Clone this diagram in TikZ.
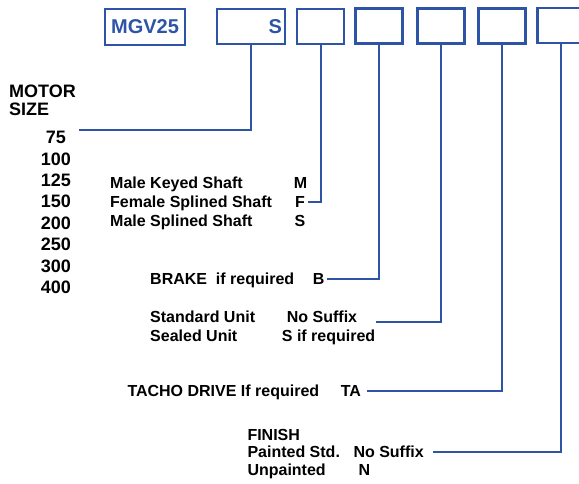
\documentclass[tikz,border=0pt]{standalone}
\usepackage{fontspec}
\setmainfont{Liberation Sans}
\definecolor{codeblue}{RGB}{46,84,166}
\tikzstyle{codebox}=[draw=codeblue, line width=2.4pt, minimum width=47pt, minimum height=35pt, inner sep=0pt, text=codeblue, font=\fontsize{20}{20}\selectfont\bfseries]
\tikzstyle{option}=[anchor=base west, inner sep=0pt, font=\fontsize{16}{16}\selectfont\bfseries]
\tikzstyle{sizeno}=[anchor=base, inner sep=0pt, font=\fontsize{18}{18}\selectfont\bfseries]
\tikzstyle{leader}=[draw=codeblue, line width=2pt]

\begin{document}
\begin{tikzpicture}[x=1pt, y=-1pt]
            \useasboundingbox (0,0) rectangle (579,483);
            \node[codebox, minimum width=80pt, minimum height=36pt] at (145,27) (model) {MGV25};
            \node[codebox, minimum width=68pt, text width=62pt, align=right] at (251,26.5) (sizebox) {S};
            \node[codebox] at (320.5,26.5) (shaftbox) {};
            \node[codebox] at (379,26) (brakebox) {};
            \node[codebox] at (441,26) (sealbox) {};
            \node[codebox] at (502,26) (tachobox) {};
            \node[codebox] at (561,25.5) (finishbox) {};
            \node[option, font=\fontsize{18}{18}\selectfont\bfseries] at (9,97.7) (motor) {MOTOR};
            \node[option, font=\fontsize{18}{18}\selectfont\bfseries] at (9,115.7) (size) {SIZE};
            \foreach \n/\y in {75/143.3, 100/165.7, 125/186.7, 150/207.3, 200/229.3, 250/250.7, 300/272.3, 400/293.3}
                \node[sizeno] at (56,\y) (size\n) {\n};
            \node[option] at (110,188.3) (keyed) {Male Keyed Shaft};
            \node[option] at (110,207.7) (female) {Female Splined Shaft};
            \node[option] at (110,226.7) (splined) {Male Splined Shaft};
            \node[option, anchor=base] at (300.5,188.3) (codeM) {M};
            \node[option, anchor=base] at (300,207.7) (codeF) {F};
            \node[option, anchor=base] at (300,226.7) (codeS) {S};
            \node[option] at (150,284.3) (brake) {BRAKE\ \ if required};
            \node[option] at (312.7,284.3) (codeB) {B};
            \node[option] at (150,322.7) (standard) {Standard Unit};
            \node[option] at (150,341) (sealed) {Sealed Unit};
            \node[option] at (286.7,322.7) (stdcode) {No Suffix};
            \node[option] at (281.7,341) (sealcode) {S if required};
            \node[option] at (127.3,396.7) (tacho) {TACHO DRIVE If required};
            \node[option] at (340.7,396.7) (codeTA) {TA};
            \node[option] at (247.3,440) (finish) {FINISH};
            \node[option] at (247.3,457.3) (painted) {Painted Std.};
            \node[option] at (247.3,475) (unpainted) {Unpainted};
            \node[option] at (353.3,457.3) (paintcode) {No Suffix};
            \node[option] at (358.3,475) (codeN) {N};
            \coordinate (sizeend) at (79,130);
            \coordinate (sealend) at (376,321.7);
            \draw[leader] (sizebox.south) |- (sizeend);
            \draw[leader] (shaftbox.south) |- ([xshift=2.5pt]codeF.east);
            \draw[leader] (brakebox.south) |- ([xshift=2.5pt]codeB.east);
            \draw[leader] (sealbox.south) |- (sealend);
            \draw[leader] (tachobox.south) |- ([xshift=6pt]codeTA.east);
            \draw[leader] (finishbox.south) |- ([xshift=9pt]paintcode.east);
        \end{tikzpicture}
\end{document}
